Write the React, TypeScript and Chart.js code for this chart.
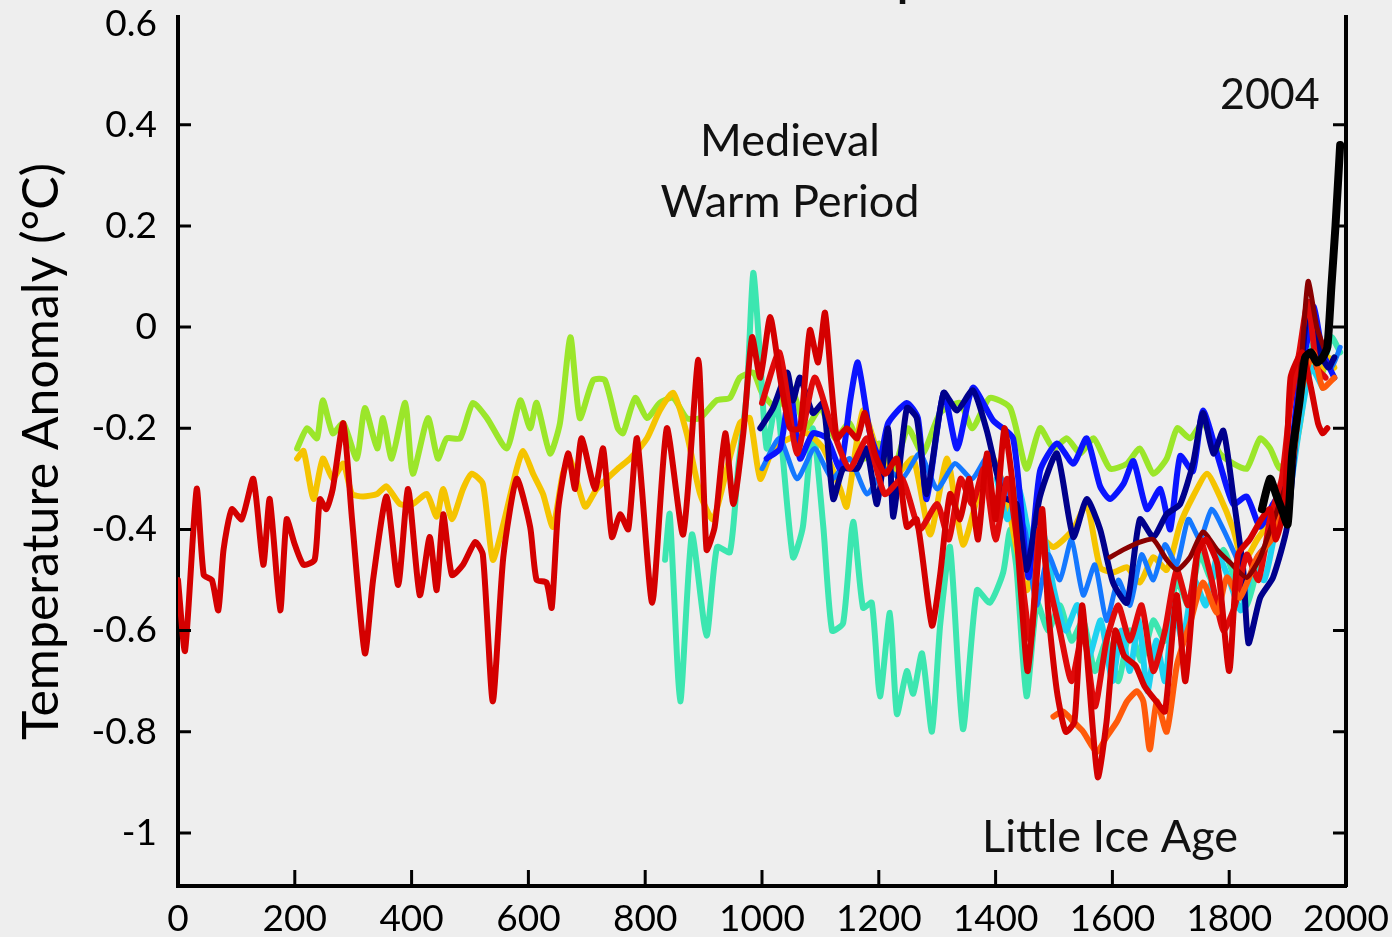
import React, { useEffect, useRef } from "react";
import { Chart, registerables } from "chart.js";

Chart.register(...registerables);

// ---------- axis ticks ----------
const yearTicks = [0, 200, 400, 600, 800, 1000, 1200, 1400, 1600, 1800, 2000];
const tempTicks = [0.6, 0.4, 0.2, 0, -0.2, -0.4, -0.6, -0.8, -1];
const tempTickLabels = ["0.6", "0.4", "0.2", "0", "-0.2", "-0.4", "-0.6", "-0.8", "-1"];

// ---------- series (year, anomaly °C) ----------
const instrumentalYears = [1856, 1870, 1880, 1890, 1900, 1908, 1920, 1930, 1940, 1950, 1960, 1968, 1975, 1982, 1990];
const instrumentalTemps = [-0.36, -0.3, -0.33, -0.36, -0.39, -0.25, -0.15, -0.06, -0.05, -0.07, -0.06, -0.04, 0.08, 0.2, 0.36];

const redYears = [0, 12, 32, 44, 58, 69, 78, 92, 109, 129, 146, 157, 175, 186, 200, 215, 234, 243, 254, 265, 283, 298, 320, 334, 357, 377, 394, 414, 431, 443, 454, 469, 488, 509, 522, 539, 557, 580, 603, 614, 631, 640, 651, 668, 680, 691, 714, 728, 743, 757, 771, 786, 812, 837, 865, 891, 905, 919, 937, 951, 968, 983, 997, 1014, 1031, 1048, 1065, 1082, 1096, 1108, 1128, 1145, 1163, 1176, 1193, 1211, 1231, 1248, 1265, 1291, 1305, 1322, 1339, 1355, 1370, 1385, 1400, 1415, 1430, 1445, 1455, 1470, 1480, 1490, 1505, 1520, 1535, 1548, 1560, 1575, 1590, 1605, 1620, 1640, 1655, 1675, 1690, 1710, 1725, 1745, 1760, 1780, 1800, 1815, 1835, 1855, 1870, 1880, 1895, 1905, 1925, 1940, 1952, 1960, 1968];
const redTemps = [-0.5, -0.64, -0.32, -0.49, -0.5, -0.56, -0.44, -0.36, -0.38, -0.3, -0.47, -0.34, -0.56, -0.38, -0.43, -0.47, -0.46, -0.34, -0.36, -0.32, -0.19, -0.38, -0.645, -0.5, -0.335, -0.51, -0.32, -0.53, -0.415, -0.52, -0.37, -0.49, -0.47, -0.425, -0.45, -0.74, -0.455, -0.3, -0.395, -0.5, -0.505, -0.555, -0.36, -0.25, -0.32, -0.22, -0.32, -0.24, -0.415, -0.37, -0.4, -0.22, -0.545, -0.2, -0.41, -0.065, -0.44, -0.395, -0.21, -0.35, -0.21, -0.02, -0.1, 0.02, -0.1, -0.2, -0.2, -0.006, -0.07, 0.028, -0.22, -0.2, -0.22, -0.17, -0.25, -0.29, -0.26, -0.395, -0.38, -0.59, -0.49, -0.33, -0.38, -0.3, -0.42, -0.25, -0.38, -0.2, -0.32, -0.55, -0.68, -0.5, -0.36, -0.56, -0.72, -0.8, -0.78, -0.55, -0.7, -0.89, -0.78, -0.6, -0.65, -0.67, -0.71, -0.74, -0.76, -0.53, -0.7, -0.45, -0.42, -0.47, -0.68, -0.45, -0.42, -0.38, -0.36, -0.42, -0.35, -0.1, -0.05, -0.12, -0.19, -0.21, -0.2];

const limeYears = [204, 221, 238, 248, 265, 283, 306, 320, 341, 351, 366, 389, 402, 428, 445, 460, 483, 505, 529, 563, 586, 603, 614, 637, 654, 672, 688, 711, 731, 753, 762, 783, 803, 825, 848, 871, 894, 922, 945, 962, 985, 1000, 1025, 1050, 1075, 1100, 1125, 1150, 1175, 1200, 1225, 1250, 1275, 1305, 1339, 1360, 1390, 1425, 1453, 1476, 1499, 1522, 1545, 1568, 1596, 1625, 1647, 1670, 1693, 1711, 1733, 1755, 1784, 1807, 1830, 1853, 1870, 1887, 1905, 1925, 1940, 1955, 1967, 1980];
const limeTemps = [-0.24, -0.2, -0.22, -0.145, -0.21, -0.19, -0.26, -0.16, -0.24, -0.18, -0.26, -0.15, -0.29, -0.18, -0.26, -0.22, -0.22, -0.15, -0.18, -0.24, -0.145, -0.2, -0.15, -0.25, -0.19, -0.02, -0.18, -0.105, -0.105, -0.2, -0.21, -0.14, -0.18, -0.15, -0.14, -0.18, -0.18, -0.145, -0.14, -0.1, -0.09, -0.13, -0.16, -0.12, -0.2, -0.16, -0.22, -0.19, -0.26, -0.23, -0.28, -0.2, -0.25, -0.17, -0.15, -0.2, -0.14, -0.16, -0.28, -0.2, -0.24, -0.22, -0.25, -0.22, -0.28, -0.27, -0.24, -0.29, -0.26, -0.2, -0.22, -0.19, -0.25, -0.27, -0.28, -0.22, -0.24, -0.28, -0.24, -0.12, -0.05, -0.1, -0.07, -0.06];

const goldYears = [204, 215, 232, 248, 265, 283, 298, 317, 341, 357, 380, 402, 426, 443, 454, 469, 488, 503, 522, 539, 557, 580, 591, 608, 625, 642, 659, 671, 697, 717, 753, 774, 803, 825, 848, 871, 894, 916, 940, 962, 979, 997, 1019, 1048, 1077, 1105, 1134, 1145, 1173, 1202, 1231, 1259, 1288, 1317, 1344, 1373, 1396, 1419, 1453, 1476, 1499, 1533, 1556, 1579, 1601, 1625, 1647, 1670, 1693, 1716, 1738, 1762, 1784, 1807, 1824, 1848, 1875, 1899, 1920, 1940, 1955, 1970, 1980];
const goldTemps = [-0.26, -0.245, -0.34, -0.26, -0.3, -0.27, -0.33, -0.335, -0.33, -0.315, -0.35, -0.35, -0.33, -0.375, -0.32, -0.38, -0.32, -0.29, -0.31, -0.46, -0.39, -0.28, -0.245, -0.29, -0.33, -0.395, -0.29, -0.26, -0.355, -0.32, -0.28, -0.26, -0.22, -0.165, -0.13, -0.21, -0.33, -0.38, -0.28, -0.19, -0.18, -0.3, -0.24, -0.22, -0.21, -0.24, -0.32, -0.355, -0.165, -0.26, -0.29, -0.26, -0.41, -0.26, -0.43, -0.32, -0.26, -0.34, -0.52, -0.415, -0.435, -0.4, -0.35, -0.475, -0.485, -0.475, -0.505, -0.455, -0.48, -0.39, -0.335, -0.29, -0.335, -0.4, -0.465, -0.42, -0.375, -0.315, -0.2, -0.05, -0.09, -0.06, -0.08];

const tealYears = [834, 842, 860, 880, 905, 923, 945, 959, 974, 985, 997, 1008, 1025, 1053, 1070, 1087, 1105, 1120, 1139, 1156, 1173, 1188, 1202, 1219, 1231, 1248, 1259, 1274, 1291, 1305, 1322, 1344, 1368, 1390, 1413, 1425, 1436, 1453, 1471, 1490, 1510, 1530, 1550, 1570, 1590, 1610, 1630, 1650, 1670, 1690, 1710, 1730, 1750, 1770, 1790, 1810, 1830, 1850, 1870, 1890, 1910, 1930, 1945, 1960, 1975, 1990];
const tealTemps = [-0.46, -0.37, -0.74, -0.41, -0.61, -0.435, -0.445, -0.28, -0.13, 0.107, -0.065, -0.24, -0.145, -0.455, -0.395, -0.2, -0.395, -0.6, -0.585, -0.385, -0.555, -0.545, -0.73, -0.565, -0.765, -0.68, -0.725, -0.645, -0.8, -0.59, -0.435, -0.795, -0.52, -0.545, -0.485, -0.4, -0.48, -0.73, -0.545, -0.6, -0.55, -0.62, -0.58, -0.68, -0.62, -0.7, -0.6, -0.66, -0.58, -0.62, -0.5, -0.55, -0.45, -0.5, -0.44, -0.5, -0.55, -0.47, -0.42, -0.35, -0.25, -0.1, -0.03, -0.08, -0.02, -0.05];

const navyYears = [997, 1019, 1043, 1053, 1065, 1087, 1105, 1122, 1139, 1163, 1179, 1197, 1216, 1225, 1248, 1265, 1282, 1311, 1334, 1361, 1385, 1413, 1436, 1453, 1476, 1505, 1533, 1556, 1579, 1601, 1625, 1647, 1670, 1693, 1716, 1738, 1755, 1773, 1790, 1807, 1824, 1833, 1853, 1875, 1899, 1915, 1930, 1940, 1955, 1970, 1980];
const navyTemps = [-0.2, -0.16, -0.09, -0.145, -0.1, -0.17, -0.15, -0.34, -0.28, -0.28, -0.24, -0.35, -0.2, -0.375, -0.16, -0.18, -0.33, -0.13, -0.165, -0.125, -0.205, -0.335, -0.35, -0.48, -0.335, -0.25, -0.415, -0.34, -0.4, -0.505, -0.545, -0.38, -0.415, -0.37, -0.35, -0.27, -0.17, -0.25, -0.205, -0.335, -0.48, -0.625, -0.535, -0.495, -0.395, -0.2, 0.0, 0.05, -0.05, -0.08, -0.06];

const blueYears = [1008, 1031, 1048, 1065, 1087, 1111, 1134, 1151, 1164, 1185, 1202, 1216, 1248, 1267, 1282, 1311, 1334, 1361, 1396, 1430, 1456, 1476, 1505, 1533, 1556, 1579, 1596, 1619, 1636, 1659, 1682, 1699, 1716, 1738, 1755, 1784, 1807, 1830, 1853, 1875, 1900, 1920, 1935, 1945, 1960, 1980];
const blueTemps = [-0.26, -0.24, -0.12, -0.26, -0.21, -0.22, -0.28, -0.145, -0.07, -0.21, -0.26, -0.19, -0.15, -0.18, -0.34, -0.13, -0.24, -0.12, -0.185, -0.22, -0.495, -0.285, -0.23, -0.27, -0.22, -0.315, -0.34, -0.31, -0.265, -0.36, -0.32, -0.4, -0.255, -0.285, -0.165, -0.27, -0.35, -0.335, -0.395, -0.35, -0.3, -0.1, -0.02, 0.04, -0.05, -0.1];

const azureYears = [1000, 1030, 1060, 1090, 1120, 1150, 1180, 1210, 1240, 1270, 1300, 1330, 1360, 1390, 1420, 1450, 1470, 1490, 1510, 1530, 1550, 1570, 1590, 1610, 1630, 1650, 1670, 1690, 1710, 1730, 1750, 1770, 1790, 1810, 1830, 1850, 1870, 1890, 1910, 1930, 1945, 1960, 1975, 1990];
const azureTemps = [-0.28, -0.22, -0.3, -0.24, -0.3, -0.26, -0.33, -0.28, -0.3, -0.25, -0.32, -0.27, -0.3, -0.25, -0.33, -0.4, -0.55, -0.45, -0.5, -0.42, -0.53, -0.47, -0.58, -0.5, -0.55, -0.45, -0.5, -0.43, -0.47, -0.38, -0.42, -0.36, -0.4, -0.45, -0.5, -0.45, -0.42, -0.35, -0.25, -0.05, 0.03, -0.05, -0.08, -0.04];

const cyanYears = [1402, 1420, 1440, 1460, 1480, 1500, 1520, 1540, 1560, 1580, 1600, 1615, 1630, 1645, 1660, 1675, 1690, 1705, 1720, 1740, 1760, 1780, 1800, 1820, 1840, 1860, 1880, 1900, 1920, 1940, 1960];
const cyanTemps = [-0.3, -0.38, -0.32, -0.42, -0.4, -0.52, -0.6, -0.55, -0.65, -0.58, -0.7, -0.6, -0.68, -0.58, -0.72, -0.62, -0.7, -0.55, -0.62, -0.5, -0.55, -0.45, -0.5, -0.56, -0.48, -0.5, -0.4, -0.35, -0.2, -0.08, -0.12];

const orangeYears = [1499, 1515, 1533, 1550, 1573, 1590, 1608, 1625, 1642, 1653, 1664, 1676, 1693, 1711, 1733, 1755, 1779, 1796, 1818, 1848, 1875, 1904, 1925, 1944, 1960, 1980];
const orangeTemps = [-0.77, -0.76, -0.78, -0.8, -0.84, -0.81, -0.78, -0.74, -0.72, -0.74, -0.835, -0.74, -0.8, -0.665, -0.585, -0.505, -0.565, -0.495, -0.535, -0.455, -0.415, -0.3, -0.12, -0.05, -0.12, -0.1];

const maroonYears = [1596, 1619, 1647, 1670, 1693, 1711, 1733, 1755, 1779, 1801, 1830, 1853, 1875, 1900, 1920, 1935, 1950, 1965];
const maroonTemps = [-0.455, -0.44, -0.425, -0.42, -0.46, -0.48, -0.455, -0.405, -0.44, -0.465, -0.495, -0.455, -0.385, -0.3, -0.12, 0.09, 0.0, -0.05];

const scarletYears = [1000, 1030, 1060, 1090, 1120, 1150, 1180, 1210, 1240, 1270, 1300, 1320, 1340, 1360, 1380, 1400, 1420, 1440, 1460, 1475, 1490, 1510, 1530, 1550, 1570, 1590, 1610, 1630, 1650, 1670, 1690, 1710, 1730, 1750, 1770, 1790, 1810, 1830, 1850, 1870, 1890, 1905, 1920, 1935, 1950, 1965];
const scarletTemps = [-0.15, -0.05, -0.25, -0.1, -0.2, -0.28, -0.22, -0.33, -0.3, -0.4, -0.35, -0.42, -0.3, -0.35, -0.28, -0.42, -0.3, -0.45, -0.62, -0.4, -0.5, -0.6, -0.7, -0.6, -0.75, -0.62, -0.55, -0.62, -0.55, -0.68, -0.6, -0.48, -0.55, -0.42, -0.5, -0.6, -0.55, -0.45, -0.5, -0.38, -0.3, -0.15, -0.05, 0.05, -0.08, -0.1];

// ---------- text labels ----------
const titleText = "Reconstructed Temperature";
const yTitle = "Temperature Anomaly (°C)";
const medievalLines = ["Medieval", "Warm Period"];
const medievalAt = { x: 1048, y1: 0.366, y2: 0.247 };
const endLabel = "2004";
const endLabelAt = { x: 1955, y: 0.458 };
const iceLabel = "Little Ice Age";
const iceLabelAt = { x: 1596, y: -1.01 };

const FONT = "Lato, 'Open Sans', sans-serif";

const pts = (xs: number[], ys: number[]) => xs.map((x, i) => ({ x, y: ys[i] }));

const series = [
  { label: "Instrumental", xs: instrumentalYears, ys: instrumentalTemps, color: "#000000", width: 8 },
  { label: "Moberg", xs: redYears, ys: redTemps, color: "#d40000", width: 6 },
  { label: "Oerlemans", xs: maroonYears, ys: maroonTemps, color: "#8a0000", width: 5 },
  { label: "Huang", xs: orangeYears, ys: orangeTemps, color: "#ff5a0a", width: 6 },
  { label: "Pollack", xs: scarletYears, ys: scarletTemps, color: "#e00a0a", width: 6 },
  { label: "Jones 1998", xs: navyYears, ys: navyTemps, color: "#00008c", width: 6 },
  { label: "Mann 1999", xs: blueYears, ys: blueTemps, color: "#0a14ff", width: 6 },
  { label: "Crowley", xs: azureYears, ys: azureTemps, color: "#1478ff", width: 5 },
  { label: "Briffa", xs: cyanYears, ys: cyanTemps, color: "#1ed2f0", width: 6 },
  { label: "Jones & Mann", xs: goldYears, ys: goldTemps, color: "#f5c400", width: 6 },
  { label: "Esper", xs: tealYears, ys: tealTemps, color: "#3ce6b0", width: 6 },
  { label: "Mann & Jones", xs: limeYears, ys: limeTemps, color: "#9be62a", width: 6 },
];

const decorPlugin = {
  id: "decor",
  beforeDraw(chart: any) {
    const { ctx, width, height } = chart;
    ctx.save();
    ctx.fillStyle = "#eeeeee";
    ctx.fillRect(0, 0, width, height);
    ctx.restore();
  },
  afterDraw(chart: any) {
    const { ctx, chartArea } = chart;
    const x = chart.scales.x;
    const y = chart.scales.y;
    ctx.save();
    ctx.strokeStyle = "#000";
    ctx.lineWidth = 3;
    ctx.beginPath();
    for (const v of tempTicks) {
      if (v > 0.5) continue;
      const py = y.getPixelForValue(v);
      ctx.moveTo(chartArea.left, py);
      ctx.lineTo(chartArea.left + 13, py);
      ctx.moveTo(chartArea.right - 13, py);
      ctx.lineTo(chartArea.right, py);
    }
    for (const v of yearTicks) {
      if (v <= 0 || v >= 2000) continue;
      const px = x.getPixelForValue(v);
      ctx.moveTo(px, chartArea.bottom);
      ctx.lineTo(px, chartArea.bottom - 16);
    }
    ctx.stroke();

    ctx.fillStyle = "#111";
    ctx.textBaseline = "middle";
    ctx.font = `45px ${FONT}`;
    ctx.textAlign = "center";
    ctx.fillText(medievalLines[0], x.getPixelForValue(medievalAt.x), y.getPixelForValue(medievalAt.y1));
    ctx.fillText(medievalLines[1], x.getPixelForValue(medievalAt.x), y.getPixelForValue(medievalAt.y2));
    ctx.fillText(iceLabel, x.getPixelForValue(iceLabelAt.x), y.getPixelForValue(iceLabelAt.y));
    ctx.font = `43px ${FONT}`;
    ctx.textAlign = "right";
    ctx.fillText(endLabel, x.getPixelForValue(endLabelAt.x), y.getPixelForValue(endLabelAt.y));

    // title, mostly above the top edge of the picture
    ctx.textAlign = "center";
    ctx.textBaseline = "alphabetic";
    ctx.font = `61px ${FONT}`;
    ctx.fillText(titleText, 752, -7);
    ctx.restore();
  },
};

const noEdgePadding = (scale: any) => {
  scale.paddingTop = 0;
  scale.paddingBottom = 0;
  scale.paddingLeft = 0;
  scale.paddingRight = 0;
};

export default function App() {
  const ref = useRef<HTMLCanvasElement | null>(null);

  useEffect(() => {
    document.body.style.margin = "0";
    const canvas = ref.current;
    if (!canvas) return;
    const chart = new Chart(canvas, {
      type: "line",
      data: {
        datasets: series.map((s) => ({
          label: s.label,
          data: pts(s.xs, s.ys),
          borderColor: s.color,
          backgroundColor: s.color,
          borderWidth: s.width,
          pointRadius: 0,
          tension: 0.2,
          fill: false,
          borderJoinStyle: "round" as const,
          borderCapStyle: "round" as const,
        })),
      },
      options: {
        animation: false,
        responsive: false,
        devicePixelRatio: 1,
        events: [],
        layout: { padding: { left: 0, top: 17, right: 46, bottom: 0 } },
        plugins: { legend: { display: false }, tooltip: { enabled: false }, title: { display: false } },
        scales: {
          x: {
            type: "linear",
            min: 0,
            max: 2000,
            grid: { display: false },
            border: { display: true, color: "#000", width: 4 },
            afterBuildTicks: (scale: any) => {
              scale.ticks = yearTicks.map((v) => ({ value: v }));
            },
            afterFit: (scale: any) => {
              scale.height = 51;
              noEdgePadding(scale);
            },
            ticks: {
              autoSkip: false,
              maxRotation: 0,
              padding: 3,
              color: "#000",
              font: { family: FONT, size: 37 },
              callback: (v: any) => String(v),
            },
          },
          y: {
            type: "linear",
            position: "left",
            min: -1.105,
            max: 0.613,
            grid: { display: false },
            border: { display: true, color: "#000", width: 4 },
            afterBuildTicks: (scale: any) => {
              scale.ticks = tempTicks.map((v) => ({ value: v }));
            },
            afterFit: (scale: any) => {
              scale.width = 178;
              noEdgePadding(scale);
            },
            ticks: {
              autoSkip: false,
              padding: 13,
              color: "#000",
              font: { family: FONT, size: 37 },
              callback: (v: any) => {
                const i = tempTicks.findIndex((t) => Math.abs(t - v) < 1e-9);
                return i >= 0 ? tempTickLabels[i] : "";
              },
            },
            title: {
              display: true,
              text: yTitle,
              color: "#000",
              font: { family: FONT, size: 50 },
              padding: { top: 12, bottom: 0 },
            },
          },
          y2: {
            type: "linear",
            position: "right",
            min: -1.105,
            max: 0.613,
            grid: { display: false },
            border: { display: true, color: "#000", width: 4 },
            ticks: { display: false },
            afterFit: (scale: any) => {
              scale.width = 0;
              noEdgePadding(scale);
            },
          },
        },
      },
      plugins: [decorPlugin],
    });
    return () => chart.destroy();
  }, []);

  return (
    <div style={{ width: 1392, height: 937, overflow: "hidden" }}>
      <canvas ref={ref} width={1392} height={937} style={{ display: "block" }} />
    </div>
  );
}
